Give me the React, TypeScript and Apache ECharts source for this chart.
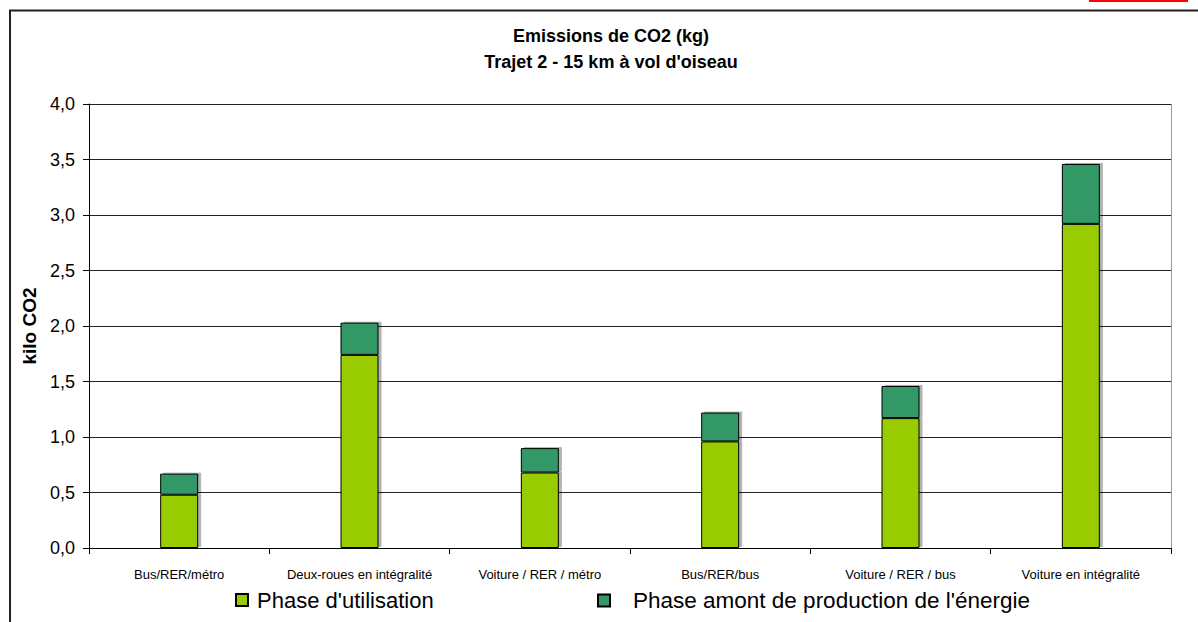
import React, { useEffect, useRef } from "react";
import * as echarts from "echarts";

const categories = [
  "Bus/RER/métro",
  "Deux-roues en intégralité",
  "Voiture / RER / métro",
  "Bus/RER/bus",
  "Voiture / RER / bus",
  "Voiture en intégralité",
];
const usePhase = [0.48, 1.74, 0.68, 0.96, 1.17, 2.92];
const upstreamPhase = [0.19, 0.29, 0.22, 0.26, 0.29, 0.54];
const seriesNames = ["Phase d'utilisation", "Phase amont de production de l'énergie"];
const titleLines = ["Emissions de CO2 (kg)", "Trajet 2 - 15 km à vol d'oiseau"];

export default function App() {
  const ref = useRef<HTMLDivElement>(null);
  useEffect(() => {
    if (!ref.current) return;
    const chart = echarts.init(ref.current, null, { renderer: "svg" });
    const font = "'Liberation Sans', Arial, sans-serif";
    const barStyle = (color: string) => ({
      color,
      borderColor: "#000",
      borderWidth: 1,
      shadowColor: "rgba(0,0,0,0.3)",
      shadowOffsetX: 3,
      shadowOffsetY: -1,
      shadowBlur: 0,
    });
    chart.setOption({
      animation: false,
      backgroundColor: "#fff",
      textStyle: { fontFamily: font },
      title: {
        text: titleLines.join("\n"),
        left: 606,
        top: 18,
        textAlign: "center",
        textStyle: {
          fontFamily: font,
          fontSize: 18,
          fontWeight: "bold",
          color: "#000",
          lineHeight: 26,
        },
      },
      grid: { left: 89, right: 27, top: 104, bottom: 74, containLabel: false },
      legend: [
        {
          data: [seriesNames[0]],
          left: 230,
          top: 584,
          itemWidth: 12,
          itemHeight: 12,
          icon: "rect",
          textStyle: { fontFamily: font, fontSize: 22, color: "#000", padding: [0, 0, 0, 4] },
        },
        {
          data: [seriesNames[1]],
          left: 592,
          top: 584,
          itemWidth: 12,
          itemHeight: 12,
          icon: "rect",
          textStyle: { fontFamily: font, fontSize: 22.5, color: "#000", padding: [0, 0, 0, 18] },
        },
      ],
      xAxis: {
        type: "category",
        data: categories,
        axisLine: { lineStyle: { color: "#000", width: 1 } },
        axisTick: { show: true, length: 6, lineStyle: { color: "#000" } },
        axisLabel: {
          fontFamily: "'Liberation Sans Narrow', 'Arial Narrow', 'Liberation Sans', sans-serif",
          fontSize: 13,
          color: "#000",
          margin: 20,
          interval: 0,
        },
      },
      yAxis: {
        type: "value",
        min: 0,
        max: 4,
        interval: 0.5,
        name: "kilo CO2",
        nameLocation: "middle",
        nameGap: 38,
        nameRotate: 90,
        nameTextStyle: { fontFamily: font, fontSize: 19, fontWeight: "bold", color: "#000", letterSpacing: 2 },
        axisLine: { show: true, lineStyle: { color: "#000" } },
        axisTick: { show: true, length: 6, lineStyle: { color: "#000" } },
        axisLabel: {
          fontFamily: font,
          fontSize: 18,
          color: "#000",
          margin: 14,
          formatter: (v: number) => v.toFixed(1).replace(".", ","),
        },
        splitLine: { show: true, lineStyle: { color: "#222", width: 1 } },
      },
      series: [
        {
          name: seriesNames[0],
          type: "bar",
          stack: "total",
          data: usePhase,
          barWidth: 38,
          itemStyle: barStyle("#99CC00"),
        },
        {
          name: seriesNames[1],
          type: "bar",
          stack: "total",
          data: upstreamPhase,
          barWidth: 38,
          itemStyle: barStyle("#339966"),
        },
      ],
      graphic: [
        {
          type: "rect",
          shape: { x: 10, y: 10.5, width: 1400, height: 900 },
          style: { fill: "none", stroke: "#222", lineWidth: 2 },
          silent: true,
        },
        {
          type: "line",
          shape: { x1: 1089, y1: 1, x2: 1188, y2: 1 },
          style: { stroke: "#ff0000", lineWidth: 2 },
          silent: true,
        },
        {
          type: "line",
          shape: { x1: 1171.5, y1: 104, x2: 1171.5, y2: 554 },
          style: { stroke: "#999", lineWidth: 1 },
          silent: true,
        },
      ],
    });
    return () => chart.dispose();
  }, []);
  return (
    <div
      ref={ref}
      style={{ position: "absolute", left: 0, top: 0, width: 1198, height: 622 }}
    />
  );
}
